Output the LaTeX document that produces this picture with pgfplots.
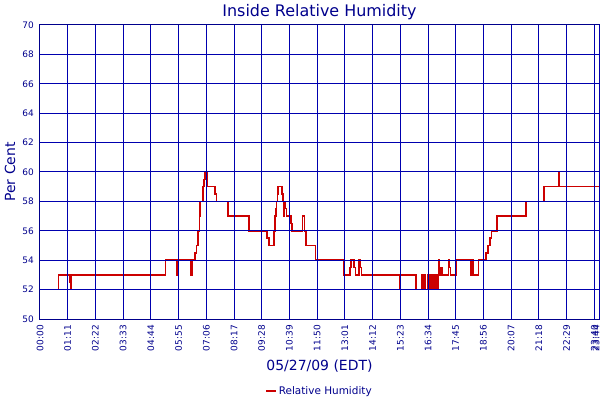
\documentclass[border=0pt]{standalone}
\usepackage{pgfplots}
\pgfplotsset{compat=1.18}
\usepackage{fontspec}
\setmainfont{DejaVu Sans}
\definecolor{navy}{RGB}{0,0,140}
\definecolor{gridblue}{RGB}{0,0,175}
\definecolor{hred}{RGB}{204,0,0}
\begin{document}
\begin{tikzpicture}
\useasboundingbox (0,0) rectangle (600bp,400bp);
\begin{axis}[
    at={(40bp,81bp)}, anchor=south west,
    scale only axis,
    width=559bp, height=294bp,
    xmin=0, xmax=1432,
    ymin=50, ymax=70,
    ytick={50,52,54,56,58,60,62,64,66,68,70},
    xtick={0,71,142,213,284,355,426,497,568,639,710,781,852,923,994,1065,1136,1207,1278,1349,1420},
    xticklabels={00:00,01:11,02:22,03:33,04:44,05:55,07:06,08:17,09:28,10:39,11:50,13:01,14:12,15:23,16:34,17:45,18:56,20:07,21:18,22:29,23:40},
    extra x ticks={1432},
    extra x tick labels={23:44},
    extra x tick style={grid=major, xticklabel style={yshift=3bp}},
    grid=major,
    every axis grid/.style={draw=gridblue, line width=1bp},
    major grid style={draw=gridblue, line width=1bp},
    axis line style={draw=navy, line width=1bp},
    tick style={draw=none},
    axis on top,
    /pgf/number format/assume math mode=true,
    ticklabel style={font=\fontsize{9}{10}\selectfont, text=navy, inner sep=0pt},
    x tick label style={rotate=90, anchor=east},
    xticklabel shift=6bp,
    yticklabel shift=6bp,
    title={Inside Relative Humidity},
    title style={at={(axis description cs:0.5,1)}, anchor=base, yshift=3bp,
      inner sep=0pt, font=\fontsize{16}{19}\selectfont, text=navy},
    xlabel={05/27/09 (EDT)},
    xlabel style={at={(axis description cs:0.5,0)}, anchor=base, yshift=-51bp,
      inner sep=0pt, font=\fontsize{14}{16}\selectfont, text=navy},
    ylabel={Per Cent},
    ylabel style={at={(axis description cs:-0.0447,0.5)}, anchor=base,
      inner sep=0pt, font=\fontsize{14}{16}\selectfont, text=navy},
    legend style={at={(axis description cs:0.5,-0.245)}, anchor=center,
      draw=none, fill=none, font=\fontsize{10.5}{12}\selectfont, text=navy},
    legend image code/.code={\draw[#1] (0bp,0bp) -- (10bp,0bp);},
  ]
  % Relative Humidity, minutes after midnight
  \addplot[const plot, color=hred, line width=1.5bp] coordinates {
    (0,52) (47,53) (77,52.5) (79,52) (81,53)
    (321,54) (350,53) (351,54) (387,53) (389,53.5) (391,54)
    (397,54.5) (401,55) (405,56) (408,57) (410,58) (417,59) (420,59.5)
    (423,60) (428,59) (448,58.5) (452,58) (480,57) (481,58) (482,57)
    (535,56) (582,55.5) (586,55) (599,56) (602,57) (604,57.5) (606,58)
    (608,58.5) (610,59) (620,58.5) (623,58) (625,57) (626,58) (629,57.5)
    (632,57) (643,56.5) (646,56) (672,57) (678,56) (681,55) (706,54)
    (779,53) (794,53.5) (797,54) (805,53.5) (808,53) (817,54) (821,53.5)
    (824,53) (922,52) (924,53) (963,52) (978,53) (982,52) (984,53)
    (988,52) (993,53) (996,52) (1001,53) (1004,52) (1009,53) (1012,52)
    (1016,53) (1019,52) (1021,53)
    (1022,54) (1024,53) (1027,53.5) (1030,53) (1046,54) (1049,53.5)
    (1052,53) (1066,54) (1103,53) (1107,54) (1109,53) (1123,54)
    (1142,54.5) (1147,55) (1153,55.5) (1157,56) (1171,57) (1245,58)
    (1291,59) (1328,60) (1329,59.5) (1330,59) (1432,59)
  };
  \addlegendentry{Relative Humidity}
\end{axis}
\end{tikzpicture}
\end{document}
